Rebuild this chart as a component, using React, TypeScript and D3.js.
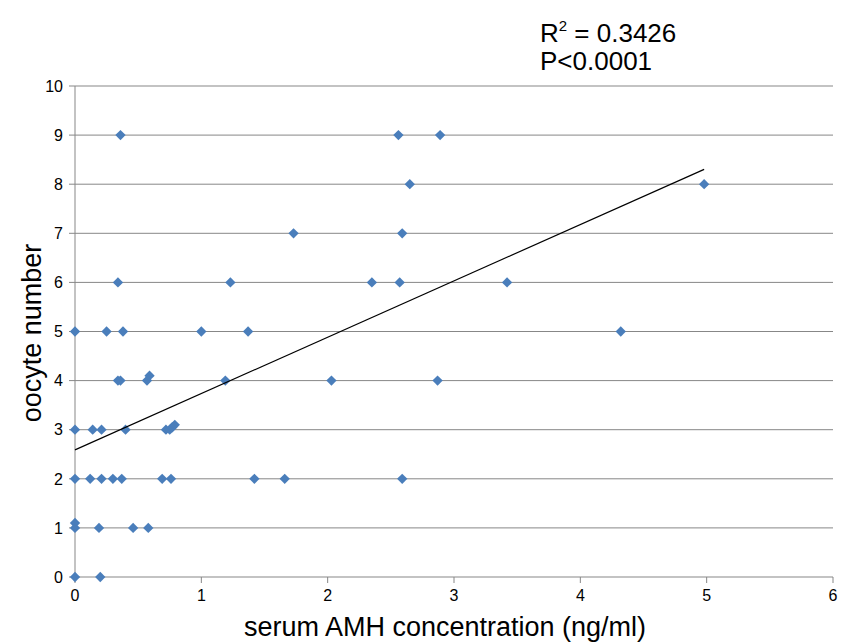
import React from "react";
import * as d3 from "d3";

const amh: number[] = [
  0.36, 2.56, 2.89,
  2.65, 4.98,
  1.73, 2.59,
  0.34, 1.23, 2.35, 2.57, 3.42,
  0.0, 0.25, 0.38, 1.0, 1.37, 4.32,
  0.34, 0.36, 0.57, 0.59, 1.19, 2.03, 2.87,
  0.0, 0.14, 0.21, 0.4, 0.72, 0.75, 0.77, 0.79,
  0.0, 0.12, 0.21, 0.3, 0.37, 0.69, 0.76, 1.42, 1.66, 2.59,
  0.0, 0.0, 0.19, 0.46, 0.58,
  0.0, 0.2,
];
const oocytes: number[] = [
  9, 9, 9,
  8, 8,
  7, 7,
  6, 6, 6, 6, 6,
  5, 5, 5, 5, 5, 5,
  4, 4, 4, 4.1, 4, 4, 4,
  3, 3, 3, 3, 3, 3, 3.05, 3.1,
  2, 2, 2, 2, 2, 2, 2, 2, 2, 2,
  1.1, 1, 1, 1, 1,
  0, 0,
];
const xTicks: number[] = [0, 1, 2, 3, 4, 5, 6];
const yTicks: number[] = [0, 1, 2, 3, 4, 5, 6, 7, 8, 9, 10];
const trendIntercept = 2.59;
const trendSlope = 1.147;
const annotationLines: string[] = ["= 0.3426", "P<0.0001"];
const xTitle = "serum AMH concentration (ng/ml)";
const yTitle = "oocyte number";

export default function App() {
  const W = 847;
  const H = 643;
  const left = 75;
  const right = 833;
  const top = 86;
  const bottom = 577;
  const x = d3.scaleLinear().domain([0, 6]).range([left, right]);
  const y = d3.scaleLinear().domain([0, 10]).range([bottom, top]);
  const font = "'Liberation Sans', Arial, Helvetica, sans-serif";
  const grid = "#878787";
  const blue = "#4a7ebb";
  const diamond = d3.symbol().type(d3.symbolDiamond2).size(68)() as string;
  const xMax = d3.max(amh) as number;
  const line = d3.line<number>().x((d) => x(d)).y((d) => y(trendIntercept + trendSlope * d));

  return (
    <svg width={W} height={H} style={{ position: "absolute", left: 0, top: 0, background: "#fff" }} fontFamily={font}>
      {yTicks.map((t) => (
        <g key={"y" + t}>
          <line x1={left - 6} x2={right} y1={y(t)} y2={y(t)} stroke={grid} strokeWidth={1} />
          <text x={left - 12} y={y(t)} dy="0.36em" textAnchor="end" fontSize={16} fill="#000">
            {t}
          </text>
        </g>
      ))}
      <line x1={left} x2={left} y1={top} y2={bottom} stroke={grid} strokeWidth={1} />
      {xTicks.map((t) => (
        <g key={"x" + t}>
          <line x1={x(t)} x2={x(t)} y1={bottom} y2={bottom + 6} stroke={grid} strokeWidth={1} />
          <text x={x(t)} y={bottom + 24} textAnchor="middle" fontSize={16} fill="#000">
            {t}
          </text>
        </g>
      ))}
      {amh.map((v, i) => (
        <path key={"p" + i} d={diamond} transform={`translate(${x(v)},${y(oocytes[i])})`} fill={blue} />
      ))}
      <path d={line([0, xMax]) as string} fill="none" stroke="#000" strokeWidth={1.2} />
      <text x={540} y={42} fontSize={26} fill="#000">
        R<tspan dy={-11} fontSize={15}>2</tspan>
        <tspan dy={11}> {annotationLines[0]}</tspan>
      </text>
      <text x={540} y={70} fontSize={26} fill="#000">
        {annotationLines[1]}
      </text>
      <text x={445} y={636} textAnchor="middle" fontSize={27} fill="#000">
        {xTitle}
      </text>
      <text transform={`translate(41,${333}) rotate(-90)`} textAnchor="middle" fontSize={27} fill="#000">
        {yTitle}
      </text>
    </svg>
  );
}
